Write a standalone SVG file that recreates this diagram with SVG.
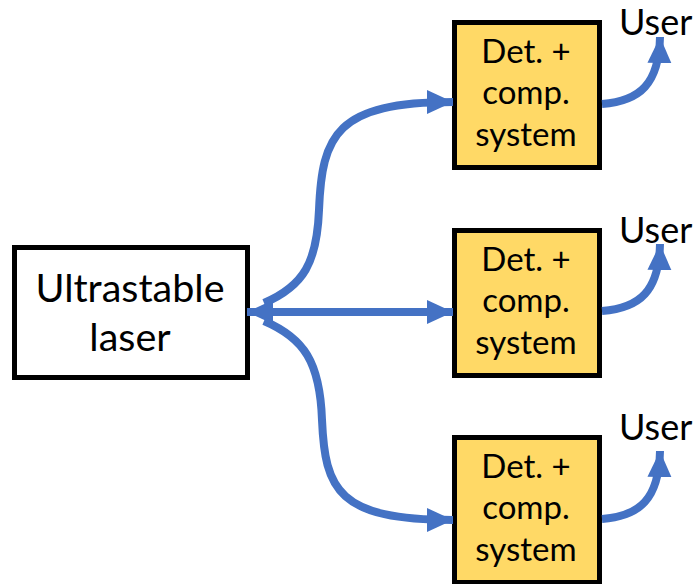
<svg xmlns="http://www.w3.org/2000/svg" width="700" height="584" viewBox="0 0 700 584">
  <style>
    .lbl { font-family: Lato, "Open Sans", "Liberation Sans", sans-serif; fill: #000; text-anchor: middle; }
    .laser { fill: #fff; stroke: #000; stroke-width: 5; }
    .det { fill: #FFD966; stroke: #000; stroke-width: 5; }
    .wire { fill: none; stroke: #4472C4; stroke-width: 8; }
    .user { font-family: Lato, "Open Sans", "Liberation Sans", sans-serif; font-size: 36px; fill: #000; }
  </style>
  <defs>
    <marker id="head" markerUnits="userSpaceOnUse" markerWidth="28" markerHeight="28" viewBox="0 0 28 28" refX="26" refY="14" orient="auto-start-reverse">
      <path d="M0,2 L26,14 L0,26 Z" fill="#4472C4"/>
    </marker>
  </defs>

  <g id="laser">
    <rect class="laser" x="14.5" y="247.5" width="233" height="130"/>
    <text class="lbl" font-size="39.5" x="130" y="302">Ultrastable</text>
    <text class="lbl" font-size="39.5" x="130" y="351">laser</text>
  </g>

  <g id="det1">
    <rect class="det" x="454.5" y="22.5" width="145" height="145"/>
    <text class="lbl" font-size="33" x="526" y="63">Det. +</text>
    <text class="lbl" font-size="33" x="526" y="104">comp.</text>
    <text class="lbl" font-size="33" x="526" y="146">system</text>
  </g>

  <g id="det2">
    <rect class="det" x="454.5" y="230.5" width="145" height="145"/>
    <text class="lbl" font-size="33" x="526" y="271">Det. +</text>
    <text class="lbl" font-size="33" x="526" y="312">comp.</text>
    <text class="lbl" font-size="33" x="526" y="354">system</text>
  </g>

  <g id="det3">
    <rect class="det" x="454.5" y="437.5" width="145" height="145"/>
    <text class="lbl" font-size="33" x="526" y="478">Det. +</text>
    <text class="lbl" font-size="33" x="526" y="519">comp.</text>
    <text class="lbl" font-size="33" x="526" y="561">system</text>
  </g>

  <g id="users">
    <text class="user" x="619" y="35">User</text>
    <text class="user" x="619" y="243">User</text>
    <text class="user" x="619" y="440">User</text>
  </g>

  <g id="connectors">
    <!-- laser to each detection box -->
    <path class="wire" d="M247,312 L453,312" marker-start="url(#head)" marker-end="url(#head)"/>
    <path class="wire" d="M264,303 C304,286 317,262 319,210 C322,135 336,102 453,102" marker-end="url(#head)"/>
    <path class="wire" d="M264,321 C304,338 320,362 322,420 C325,490 338,520 453,520" marker-end="url(#head)"/>
    <!-- detection boxes out to users -->
    <path class="wire" d="M602,104 C640,101 659,84 660,37" marker-end="url(#head)"/>
    <path class="wire" d="M602,311 C640,308 659,291 660,244" marker-end="url(#head)"/>
    <path class="wire" d="M602,519 C640,516 659,499 660,451" marker-end="url(#head)"/>
  </g>
</svg>
